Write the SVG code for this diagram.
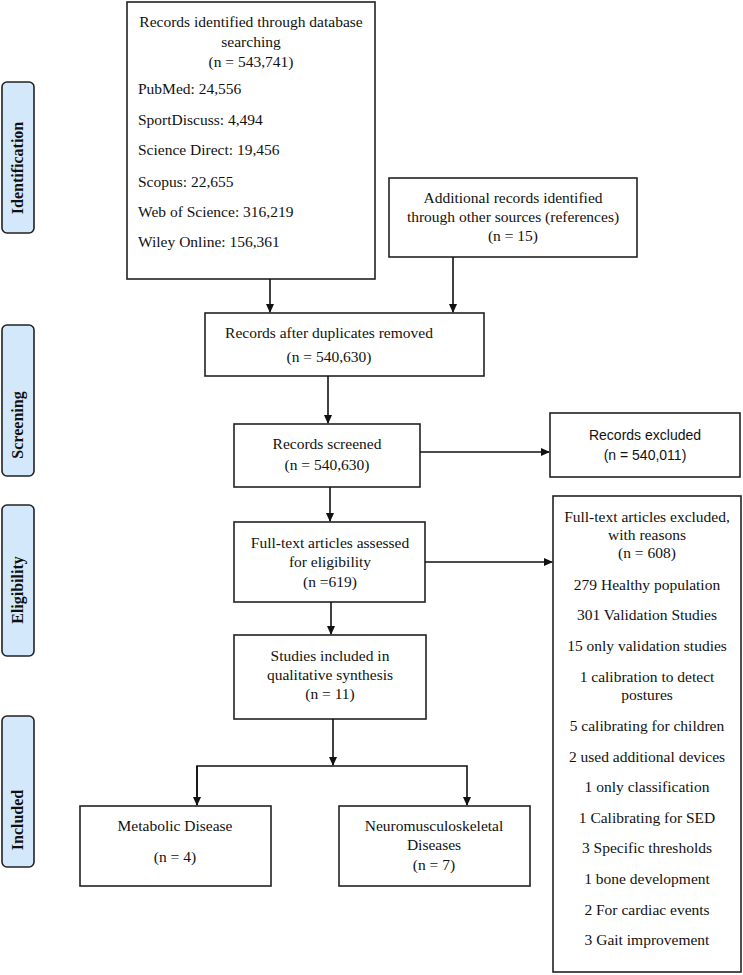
<svg xmlns="http://www.w3.org/2000/svg" width="743" height="975" viewBox="0 0 743 975">
<defs>
<marker id="ah" markerWidth="9" markerHeight="8" refX="8" refY="4" orient="auto" markerUnits="userSpaceOnUse">
<path d="M0,0 L9,4 L0,8 z" fill="#111"/>
</marker>
<style>
.box{fill:#fff;stroke:#222;stroke-width:1.6}
.lab{fill:#d3e9fb;stroke:#222;stroke-width:1.6}
.t{font-family:"Liberation Serif","Times New Roman",serif;font-size:15.5px;fill:#111}
.c{text-anchor:middle}
.s{font-family:"Liberation Sans",Arial,sans-serif;font-size:14px;fill:#111;text-anchor:middle}
.lt{font-family:"Liberation Serif","Times New Roman",serif;font-size:16px;font-weight:bold;fill:#111;text-anchor:middle}
.ln{fill:none;stroke:#111;stroke-width:1.6}
</style>
</defs>
<rect width="743" height="975" fill="#fff"/>

<g id="label-identification">
<rect class="lab" x="2" y="82" width="32" height="151" rx="5"/>
<text class="lt" transform="translate(18,168) rotate(-90)" y="5">Identification</text>
</g>
<g id="label-screening">
<rect class="lab" x="2" y="325" width="32" height="151" rx="5"/>
<text class="lt" transform="translate(18,425) rotate(-90)" y="5">Screening</text>
</g>
<g id="label-eligibility">
<rect class="lab" x="2" y="505" width="32" height="151" rx="5"/>
<text class="lt" transform="translate(18,590) rotate(-90)" y="5">Eligibility</text>
</g>
<g id="label-included">
<rect class="lab" x="2" y="716" width="32" height="151" rx="5"/>
<text class="lt" transform="translate(18,820) rotate(-90)" y="5">Included</text>
</g>

<g id="records-identified">
<rect class="box" x="127" y="2" width="248" height="277"/>
<text class="t c" x="251" y="27">Records identified through database</text>
<text class="t c" x="251" y="47">searching</text>
<text class="t c" x="251" y="67">(n = 543,741)</text>
<text class="t" x="138" y="94">PubMed: 24,556</text>
<text class="t" x="138" y="125">SportDiscuss: 4,494</text>
<text class="t" x="138" y="155">Science Direct: 19,456</text>
<text class="t" x="138" y="187">Scopus: 22,655</text>
<text class="t" x="138" y="217">Web of Science: 316,219</text>
<text class="t" x="138" y="247">Wiley Online: 156,361</text>
</g>

<g id="additional-records">
<rect class="box" x="389" y="178" width="248" height="79"/>
<text class="t c" x="513" y="203">Additional records identified</text>
<text class="t c" x="513" y="222">through other sources (references)</text>
<text class="t c" x="513" y="241">(n = 15)</text>
</g>

<g id="after-duplicates">
<rect class="box" x="205" y="313" width="279" height="63"/>
<text class="t c" x="329" y="338">Records after duplicates removed</text>
<text class="t c" x="329" y="362">(n = 540,630)</text>
</g>

<g id="records-screened">
<rect class="box" x="234" y="424" width="186" height="63"/>
<text class="t c" x="327" y="449">Records screened</text>
<text class="t c" x="327" y="470">(n = 540,630)</text>
</g>

<g id="records-excluded">
<rect class="box" x="550" y="413" width="190" height="64"/>
<text class="s" x="645" y="440">Records excluded</text>
<text class="s" x="645" y="460">(n = 540,011)</text>
</g>

<g id="fulltext-assessed">
<rect class="box" x="234" y="522" width="191" height="80"/>
<text class="t c" x="330" y="548">Full-text articles assessed</text>
<text class="t c" x="330" y="567">for eligibility</text>
<text class="t c" x="330" y="587">(n =619)</text>
</g>

<g id="fulltext-excluded">
<rect class="box" x="553" y="496" width="188" height="476"/>
<text class="t c" x="647" y="522">Full-text articles excluded,</text>
<text class="t c" x="647" y="540">with reasons</text>
<text class="t c" x="647" y="558">(n = 608)</text>
<text class="t c" x="647" y="590">279 Healthy population</text>
<text class="t c" x="647" y="620">301 Validation Studies</text>
<text class="t c" x="647" y="651">15 only validation studies</text>
<text class="t c" x="647" y="682">1 calibration to detect</text>
<text class="t c" x="647" y="700">postures</text>
<text class="t c" x="647" y="731">5 calibrating for children</text>
<text class="t c" x="647" y="762">2 used additional devices</text>
<text class="t c" x="647" y="792">1 only classification</text>
<text class="t c" x="647" y="823">1 Calibrating for SED</text>
<text class="t c" x="647" y="853">3 Specific thresholds</text>
<text class="t c" x="647" y="884">1 bone development</text>
<text class="t c" x="647" y="915">2 For cardiac events</text>
<text class="t c" x="647" y="945">3 Gait improvement</text>
</g>

<g id="studies-included">
<rect class="box" x="234" y="635" width="192" height="84"/>
<text class="t c" x="330" y="661">Studies included in</text>
<text class="t c" x="330" y="680">qualitative synthesis</text>
<text class="t c" x="330" y="699">(n = 11)</text>
</g>

<g id="metabolic">
<rect class="box" x="80" y="806" width="191" height="80"/>
<text class="t c" x="175" y="831">Metabolic Disease</text>
<text class="t c" x="175" y="862">(n = 4)</text>
</g>

<g id="neuro">
<rect class="box" x="339" y="806" width="191" height="80"/>
<text class="t c" x="434" y="831">Neuromusculoskeletal</text>
<text class="t c" x="434" y="850">Diseases</text>
<text class="t c" x="434" y="870">(n = 7)</text>
</g>

<g id="connectors">
<line class="ln" x1="270" y1="279" x2="270" y2="312" marker-end="url(#ah)"/>
<line class="ln" x1="453" y1="257" x2="453" y2="312" marker-end="url(#ah)"/>
<line class="ln" x1="328" y1="376" x2="328" y2="423" marker-end="url(#ah)"/>
<line class="ln" x1="420" y1="452" x2="549" y2="452" marker-end="url(#ah)"/>
<line class="ln" x1="330" y1="487" x2="330" y2="521" marker-end="url(#ah)"/>
<line class="ln" x1="425" y1="562" x2="552" y2="562" marker-end="url(#ah)"/>
<line class="ln" x1="331" y1="602" x2="331" y2="634" marker-end="url(#ah)"/>
<line class="ln" x1="333" y1="719" x2="333" y2="765" marker-end="url(#ah)"/>
<polyline class="ln" points="197,805 197,766 467,766 467,805" marker-end="url(#ah)"/>
<line class="ln" x1="197" y1="766" x2="197" y2="805" marker-end="url(#ah)"/>
</g>
</svg>
